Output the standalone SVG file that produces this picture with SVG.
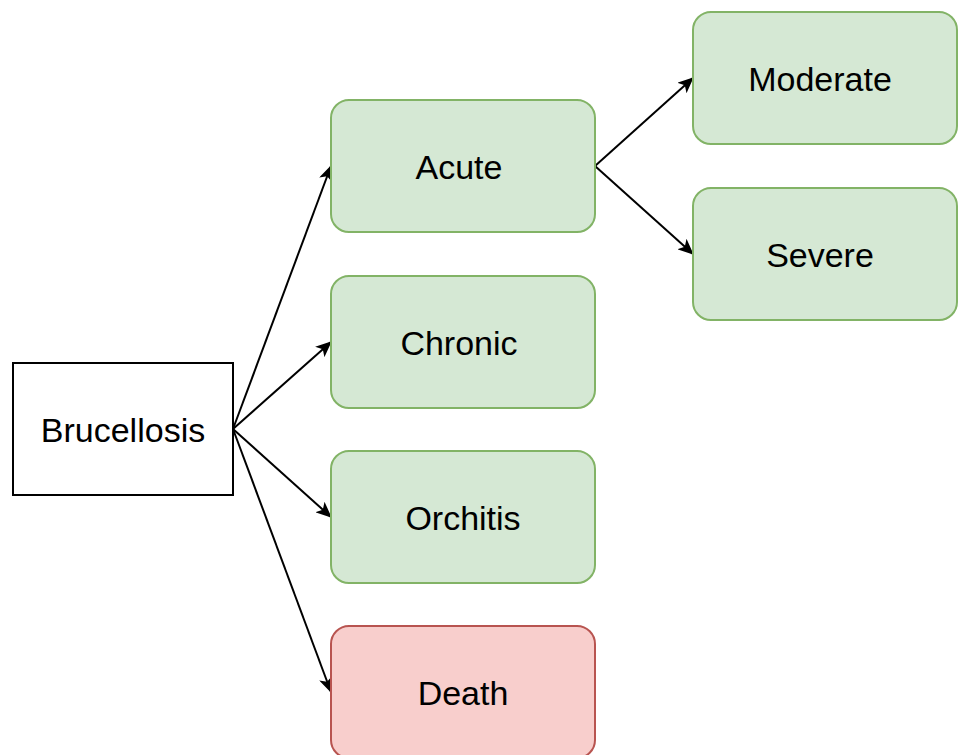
<svg xmlns="http://www.w3.org/2000/svg" width="959" height="755" viewBox="0 0 959 755">
<style>
.t{font-family:"Liberation Sans",Arial,sans-serif;font-size:34px;fill:#000;text-anchor:middle;dominant-baseline:central}
.g{fill:#d5e8d4;stroke:#82b366;stroke-width:2}
.r{fill:#f8cecc;stroke:#b85450;stroke-width:2}
.w{fill:#fff;stroke:#000;stroke-width:2}
.c{stroke:#000;stroke-width:2;fill:none;marker-end:url(#a)}
</style>
<defs>
<marker id="a" viewBox="0 0 16 14" refX="15" refY="7" markerWidth="16" markerHeight="14" markerUnits="userSpaceOnUse" orient="auto">
<path d="M0,0 L16,7 L0,14 L4,7 z" fill="#000"/>
</marker>
</defs>
<rect width="959" height="755" fill="#fff"/>
<g id="connectors">
<line class="c" x1="233" y1="429" x2="331" y2="166"/>
<line class="c" x1="233" y1="429" x2="331" y2="342"/>
<line class="c" x1="233" y1="429" x2="331" y2="517"/>
<line class="c" x1="233" y1="429" x2="331" y2="692"/>
<line class="c" x1="595" y1="166" x2="693" y2="78"/>
<line class="c" x1="595" y1="166" x2="693" y2="254"/>
</g>
<g id="brucellosis"><rect class="w" x="13" y="363" width="220" height="132"/><text class="t" x="123" y="430">Brucellosis</text></g>
<g id="acute"><rect class="g" x="331" y="100" width="264" height="132" rx="18"/><text class="t" x="459" y="167">Acute</text></g>
<g id="chronic"><rect class="g" x="331" y="276" width="264" height="132" rx="18"/><text class="t" x="459" y="343">Chronic</text></g>
<g id="orchitis"><rect class="g" x="331" y="451" width="264" height="132" rx="18"/><text class="t" x="463" y="518">Orchitis</text></g>
<g id="death"><rect class="r" x="331" y="626" width="264" height="132" rx="18"/><text class="t" x="463" y="693">Death</text></g>
<g id="moderate"><rect class="g" x="693" y="12" width="264" height="132" rx="18"/><text class="t" x="820" y="79">Moderate</text></g>
<g id="severe"><rect class="g" x="693" y="188" width="264" height="132" rx="18"/><text class="t" x="820" y="255">Severe</text></g>
</svg>
